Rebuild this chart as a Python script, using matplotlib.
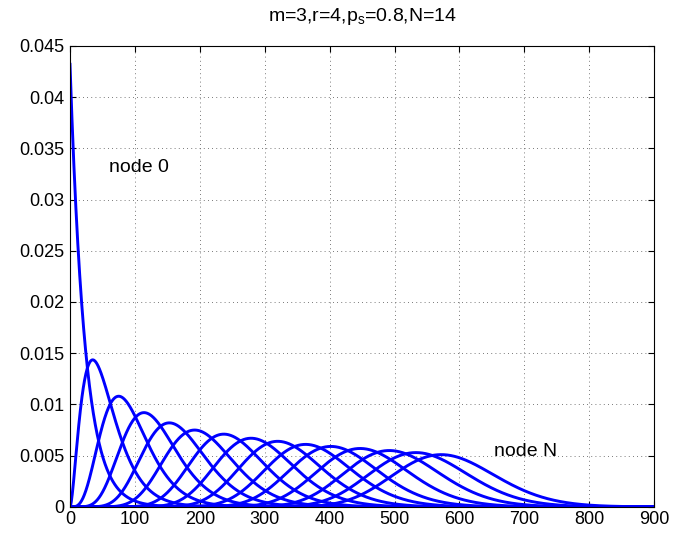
import math
import numpy as np
import matplotlib
matplotlib.use("Agg")
import matplotlib.pyplot as plt

# peak position and peak height of each node's curve
nodes = list(range(15))
peak_x = [0, 35, 75, 114, 153, 192, 237, 279, 320, 363, 402, 447, 492, 533, 572]
peak_y = [0.0432, 0.01435, 0.0108, 0.0092, 0.0082, 0.0075, 0.0071, 0.0067,
          0.0064, 0.0061, 0.0059, 0.0057, 0.0055, 0.0053, 0.0051]

x_ticks = list(range(0, 901, 100))
y_ticks = [0, 0.005, 0.01, 0.015, 0.02, 0.025, 0.03, 0.035, 0.04, 0.045]
y_tick_labels = ["0", "0.005", "0.01", "0.015", "0.02", "0.025", "0.03",
                 "0.035", "0.04", "0.045"]
title = r"m=3,r=4,p$_\mathrm{s}$=0.8,N=14"


def shape_from_peak(mode, peak):
    # gamma shape a such that mode*peak matches (a-1)^a e^-(a-1) / Gamma(a)
    target = mode * peak

    def g(a):
        return math.exp(a * math.log(a - 1) - (a - 1) - math.lgamma(a))

    lo, hi = 1.0001, 500.0
    for _ in range(200):
        mid = 0.5 * (lo + hi)
        if g(mid) < target:
            lo = mid
        else:
            hi = mid
    return 0.5 * (lo + hi)


def curve(x, mode, peak):
    if mode == 0:
        return peak * np.exp(-x * peak)
    a = shape_from_peak(mode, peak)
    theta = mode / (a - 1)
    xs = np.maximum(x, 1e-9)
    logf = (a - 1) * np.log(xs) - xs / theta - math.lgamma(a) - a * math.log(theta)
    return np.exp(logf)


plt.rcParams["font.family"] = ["Liberation Sans", "DejaVu Sans"]
plt.rcParams["mathtext.fontset"] = "custom"
plt.rcParams["mathtext.rm"] = "Liberation Sans"

fig = plt.figure(figsize=(6.73, 5.33), dpi=100)
ax = fig.add_axes([0.104, 0.049, 0.868, 0.865])

x = np.linspace(0, 900, 1801)
for n in nodes:
    ax.plot(x, curve(x, peak_x[n], peak_y[n]), color=(0, 0, 1), lw=2.1)

ax.set_xlim(0, 900)
ax.set_ylim(0, 0.045)
ax.set_xticks(x_ticks)
ax.set_yticks(y_ticks)
ax.set_yticklabels(y_tick_labels)
ax.tick_params(direction="in", top=True, right=True, labelsize=13, length=4.5)
ax.tick_params(axis="x", pad=3)
ax.tick_params(axis="y", pad=4)
ax.grid(True, linestyle=(0, (1, 4)), color="0.3", linewidth=0.6)
for s in ax.spines.values():
    s.set_linewidth(0.8)

ax.text(60, 0.0327, "node 0", fontsize=14, va="baseline")
ax.text(653, 0.0050, "node N", fontsize=14, va="baseline")
fig.text(0.538, 1 - 21 / 533, title, fontsize=14, ha="center", va="baseline")

fig.savefig("out.png", dpi=100)
